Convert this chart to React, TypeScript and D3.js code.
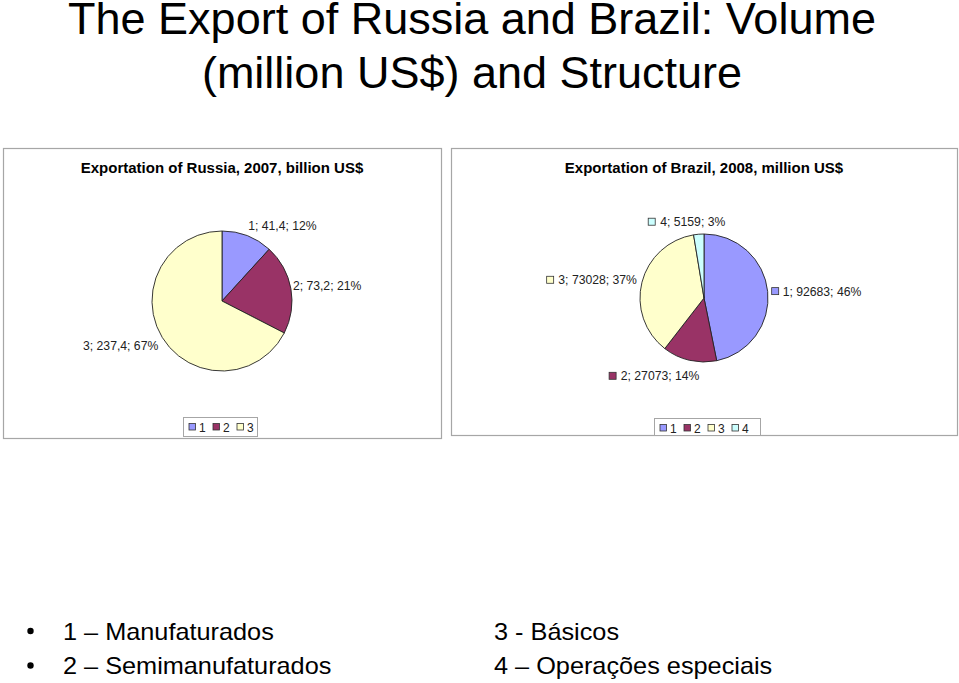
import React from "react";
import * as d3 from "d3";

const russiaCategories = ["1", "2", "3"];
const russiaValues = [41.4, 73.2, 237.4];
const russiaLabels = ["1; 41,4; 12%", "2; 73,2; 21%", "3; 237,4; 67%"];

const brazilCategories = ["1", "2", "3", "4"];
const brazilValues = [92683, 27073, 73028, 5159];
const brazilLabels = ["1; 92683; 46%", "2; 27073; 14%", "3; 73028; 37%", "4; 5159; 3%"];

const colors = ["#9999FF", "#993366", "#FFFFCC", "#CCFFFF"];

const titleLines = ["The Export of Russia and Brazil: Volume", "(million US$) and Structure"];
const notesLeft = ["1 – Manufaturados", "2 – Semimanufaturados"];
const notesRight = ["3 - Básicos", "4 – Operações especiais"];

const FONT = "'Liberation Sans', Arial, sans-serif";

type LabelLayout = { anchor: "start" | "middle" | "end"; dx: number; dy: number };

type PanelProps = {
  x: number; y: number; w: number; h: number;
  title: string;
  cx: number; cy: number; r: number;
  values: number[];
  categories: string[];
  labels: string[];
  layout: LabelLayout[];
  keys: boolean;
  legend: { x: number; y: number; w: number; h: number };
};

function Panel(p: PanelProps) {
  const pie = d3.pie<number>().sort(null).value((d) => d)(p.values);
  const arc = d3.arc<d3.PieArcDatum<number>>().innerRadius(0).outerRadius(p.r);
  return (
    <g>
      <rect x={p.x + 0.5} y={p.y + 0.5} width={p.w} height={p.h} fill="#fff" stroke="#a6a6a6" strokeWidth={1.2} />
      <text x={p.x + p.w / 2} y={p.y + 24.5} textAnchor="middle" fontFamily={FONT} fontWeight="bold" fontSize={15} fill="#000">
        {p.title}
      </text>
      <g transform={`translate(${p.cx},${p.cy})`}>
        {pie.map((s, i) => (
          <path key={i} d={arc(s) || ""} fill={colors[i]} stroke="#222" strokeWidth={0.9} />
        ))}
      </g>
      {pie.map((s, i) => {
        const mid = (s.startAngle + s.endAngle) / 2;
        const ex = p.cx + p.r * Math.sin(mid);
        const ey = p.cy - p.r * Math.cos(mid);
        const L = p.layout[i];
        const tx = ex + L.dx;
        const ty = ey + L.dy;
        const tw = p.labels[i].length * 6.1;
        let sqx = tx - 11;
        if (L.anchor === "middle") sqx = tx - tw / 2 - 11;
        if (L.anchor === "end") sqx = tx - tw - 11;
        return (
          <g key={i}>
            {p.keys && (
              <rect x={sqx} y={ty - 8} width={7} height={7} fill={colors[i]} stroke="#333" strokeWidth={0.8} />
            )}
            <text x={tx} y={ty} textAnchor={L.anchor} fontFamily={FONT} fontSize={12.2} fill="#222">
              {p.labels[i]}
            </text>
          </g>
        );
      })}
      <rect x={p.legend.x + 0.5} y={p.legend.y + 0.5} width={p.legend.w} height={p.legend.h} fill="#fff" stroke="#a6a6a6" strokeWidth={1} />
      {p.categories.map((c, i) => {
        const ix = p.legend.x + 6 + i * 24;
        return (
          <g key={c}>
            <rect x={ix} y={p.legend.y + 6.5} width={6.5} height={6.5} fill={colors[i]} stroke="#333" strokeWidth={0.8} />
            <text x={ix + 10} y={p.legend.y + 14.5} fontFamily={FONT} fontSize={12} fill="#222">{c}</text>
          </g>
        );
      })}
    </g>
  );
}

export default function App() {
  return (
    <svg width={959} height={683} style={{ position: "absolute", left: 0, top: 0, background: "#fff" }}>
      <rect width={959} height={683} fill="#fff" />
      {titleLines.map((t, i) => (
        <text key={i} x={472} y={34 + i * 54} textAnchor="middle" fontFamily={FONT} fontSize={45} fill="#000">
          {t}
        </text>
      ))}
      <Panel
        x={3} y={148} w={438} h={290}
        title="Exportation of Russia, 2007, billion US$"
        cx={222} cy={301} r={70}
        values={russiaValues}
        categories={russiaCategories}
        labels={russiaLabels}
        layout={[
          { anchor: "start", dx: 1, dy: -6 },
          { anchor: "start", dx: 2, dy: 1 },
          { anchor: "end", dx: -4, dy: 13 },
        ]}
        keys={false}
        legend={{ x: 183, y: 417, w: 74, h: 19 }}
      />
      <Panel
        x={451} y={148} w={506} h={287}
        title="Exportation of Brazil, 2008, million US$"
        cx={704} cy={298} r={64}
        values={brazilValues}
        categories={brazilCategories}
        labels={brazilLabels}
        layout={[
          { anchor: "start", dx: 15, dy: 4 },
          { anchor: "end", dx: 10, dy: 20 },
          { anchor: "end", dx: -5, dy: 2 },
          { anchor: "middle", dx: -6, dy: -8 },
        ]}
        keys={true}
        legend={{ x: 654, y: 418, w: 106, h: 17 }}
      />
      {notesLeft.map((t, i) => (
        <g key={i}>
          <circle cx={30.5} cy={631 + i * 34.5} r={3.2} fill="#000" />
          <text transform={`translate(63,${639.5 + i * 34.5}) scale(1.1,1)`} fontFamily={FONT} fontSize={23} fill="#000">{t}</text>
        </g>
      ))}
      {notesRight.map((t, i) => (
        <text key={i} transform={`translate(494,${639.5 + i * 34.5}) scale(1.1,1)`} fontFamily={FONT} fontSize={23} fill="#000">{t}</text>
      ))}
    </svg>
  );
}
